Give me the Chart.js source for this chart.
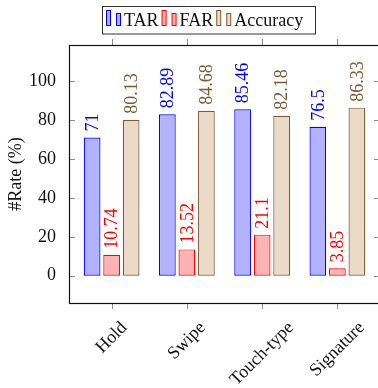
<!DOCTYPE html>
<html>
<head>
<meta charset="utf-8">
<script src="https://cdn.jsdelivr.net/npm/chart.js@4.4.1/dist/chart.umd.min.js"></script>
<style>
  html, body { margin: 0; padding: 0; background: #fff; }
  #wrap { width: 378px; height: 388px; }
</style>
</head>
<body>
<div id="wrap"><canvas id="c" width="378" height="388"></canvas></div>
<script>
// veriler
const categories = ['Hold', 'Swipe', 'Touch-type', 'Signature'];
const tarValues = [71, 82.89, 85.46, 76.5];
const farValues = [10.74, 13.52, 21.1, 3.85];
const accValues = [80.13, 84.68, 82.18, 86.33];
const yTicks = [0, 20, 40, 60, 80, 100];

const FONT = "'Liberation Serif', 'Times New Roman', serif";

// çerçeve, tik işaretleri, etiketler ve lejant
const decorPlugin = {
  id: 'decor',
  afterDatasetsDraw(chart) {
    const ctx = chart.ctx;
    const a = chart.chartArea;
    const xs = chart.scales.x, ys = chart.scales.y;
    const L = a.left - 5, R = a.right + 5;
    ctx.save();

    // tik işaretleri
    ctx.strokeStyle = '#8c8c8c';
    ctx.lineWidth = 1;
    ctx.beginPath();
    yTicks.forEach(v => {
      const y = Math.round(ys.getPixelForValue(v)) + 0.5;
      ctx.moveTo(L, y); ctx.lineTo(L + 6, y);
      ctx.moveTo(R, y); ctx.lineTo(R - 6, y);
    });
    categories.forEach((c, i) => {
      const x = Math.round(xs.getPixelForTick(i)) + 0.5;
      ctx.moveTo(x, a.top); ctx.lineTo(x, a.top - 6);
      ctx.moveTo(x, a.bottom); ctx.lineTo(x, a.bottom + 6);
    });
    ctx.stroke();

    // çerçeve
    ctx.strokeStyle = '#111';
    ctx.lineWidth = 1.2;
    ctx.strokeRect(L + 0.5, a.top + 0.5, R - L, a.bottom - a.top);

    // çubuk değerleri (dikey)
    ctx.font = '18px ' + FONT;
    chart.data.datasets.forEach((ds, di) => {
      const meta = chart.getDatasetMeta(di);
      meta.data.forEach((bar, i) => {
        ctx.save();
        ctx.translate(bar.x, bar.y - 6);
        ctx.rotate(-Math.PI / 2);
        ctx.fillStyle = ds.borderColor;
        ctx.textAlign = 'left';
        ctx.textBaseline = 'middle';
        ctx.fillText(String(ds.data[i]), 0, 1);
        ctx.restore();
      });
    });

    // x etiketleri (45 derece, tikin altında ortalı)
    ctx.font = '18px ' + FONT;
    ctx.fillStyle = '#111';
    categories.forEach((c, i) => {
      const x = xs.getPixelForTick(i);
      const w = ctx.measureText(c).width;
      const half = (w + 14) * 0.3536;
      ctx.save();
      ctx.translate(x, a.bottom + 17 + half);
      ctx.rotate(-Math.PI / 4);
      ctx.textAlign = 'center';
      ctx.textBaseline = 'middle';
      ctx.fillText(c, 0, 0);
      ctx.restore();
    });

    // lejant
    let lx = 106;
    const top = 10, base = 26;
    const boxLeft = lx - 4.5;
    chart.data.datasets.forEach(ds => {
      ctx.fillStyle = ds.backgroundColor;
      ctx.strokeStyle = ds.borderColor;
      ctx.lineWidth = 1;
      ctx.fillRect(lx + 0.5, top, 4, base - top - 1);
      ctx.strokeRect(lx + 0.5, top + 0.5, 4, base - top - 1);
      ctx.fillRect(lx + 10.5, top + 3, 4, base - top - 4);
      ctx.strokeRect(lx + 10.5, top + 3.5, 4, base - top - 4);
      ctx.fillStyle = '#111';
      ctx.textAlign = 'left';
      ctx.textBaseline = 'alphabetic';
      ctx.fillText(ds.label, lx + 18, base);
      lx += 18 + ctx.measureText(ds.label).width + 3;
    });
    ctx.strokeStyle = '#333';
    ctx.lineWidth = 1;
    ctx.strokeRect(Math.round(boxLeft) + 0.5, 6.5, Math.round(lx + 8 - boxLeft), 27.5);

    ctx.restore();
  }
};

new Chart(document.getElementById('c'), {
  type: 'bar',
  data: {
    labels: categories,
    datasets: [
      { label: 'TAR', data: tarValues, backgroundColor: 'rgb(178,178,255)', borderColor: '#0000ff' },
      { label: 'FAR', data: farValues, backgroundColor: 'rgb(255,178,178)', borderColor: '#ff0000' },
      { label: 'Accuracy', data: accValues, backgroundColor: 'rgb(236,218,200)', borderColor: '#7f5834' }
    ].map(d => Object.assign(d, { borderWidth: 1.2, borderSkipped: false, categoryPercentage: 0.778, barPercentage: 0.856 }))
  },
  options: {
    responsive: false,
    animation: false,
    layout: { padding: { top: 45, right: 3, left: 0, bottom: 0 } },
    plugins: { legend: { display: false }, tooltip: { enabled: false } },
    scales: {
      x: {
        offset: true,
        grid: { display: false },
        border: { display: false },
        ticks: { display: false },
        afterFit(scale) { scale.height = 85; }
      },
      y: {
        min: -14,
        max: 118.5,
        grid: { display: false },
        border: { display: false },
        afterBuildTicks(scale) { scale.ticks = yTicks.map(v => ({ value: v })); },
        ticks: { color: '#111', padding: 10, font: { family: FONT, size: 18 } },
        title: { display: true, text: '#Rate (%)', color: '#111', padding: { top: 5, bottom: 0 }, font: { family: FONT, size: 18 } },
        afterFit(scale) { scale.width = 74; }
      }
    }
  },
  plugins: [decorPlugin]
});
</script>
</body>
</html>
